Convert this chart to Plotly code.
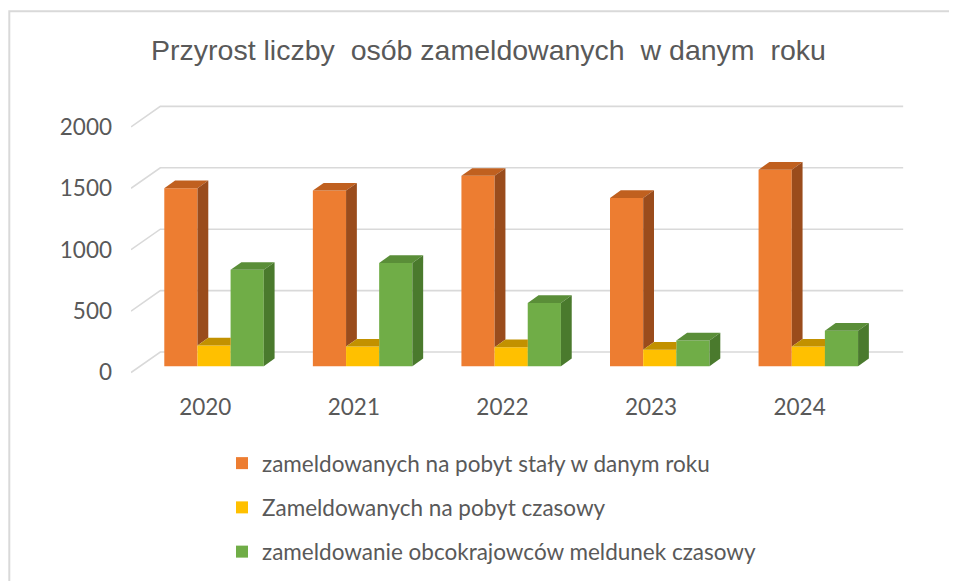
import plotly.graph_objects as go

# ---------------- data ----------------
years = ["2020", "2021", "2022", "2023", "2024"]
pobyt_staly = [1450, 1430, 1550, 1370, 1600]
pobyt_czasowy = [170, 160, 155, 135, 160]
obcokrajowcy = [785, 840, 515, 210, 290]
series_names = [
    "zameldowanych na pobyt stały w danym roku",
    "Zameldowanych na pobyt czasowy",
    "zameldowanie obcokrajowców meldunek czasowy",
]
y_ticks = [0, 500, 1000, 1500, 2000]
title_text = "Przyrost liczby\u00a0 osób zameldowanych\u00a0 w danym\u00a0 roku"

# ---------------- styling / geometry ----------------
front_cols = ["#ED7D31", "#FFC000", "#70AD47"]
top_cols = ["#C0601F", "#C29100", "#5A8E38"]
side_cols = ["#9A4C1C", "#9E7600", "#4A7A2D"]
grid_col = "#D9D9D9"
text_col = "#595959"

W_FIG, H_FIG = 957, 581
M_L, M_R, M_T, M_B = 123, 54, 82, 198
XR = [-0.5, 4.75]
YR = [-150, 2300]
W = W_FIG - M_L - M_R
H = H_FIG - M_T - M_B
ux = W / (XR[1] - XR[0])   # px per category unit
uy = H / (YR[1] - YR[0])   # px per value unit


def dx(px):
    return px / ux


def dy(px):
    return px / uy


bar_w = dx(33.2)
bar_off = [dx(-41.0), dx(-7.8), dx(25.3)]
base = dy(6.3)                        # bar front plane lifted into depth
bd_x, bd_y = dx(10.8), dy(7.7)        # bar depth
wall_x, wall_y = dx(29.3), dy(20.5)   # full floor depth

fig = go.Figure()
series = [pobyt_staly, pobyt_czasowy, obcokrajowcy]
xs = list(range(len(years)))

# front faces
for s, vals in enumerate(series):
    fig.add_trace(go.Bar(
        x=xs, y=vals, base=base, width=bar_w, offset=bar_off[s],
        marker=dict(color=front_cols[s], line=dict(width=0)),
        name=series_names[s], legendgroup=f"g{s}", hoverinfo="skip",
    ))

# top and side faces
for i in xs:
    for s, vals in enumerate(series):
        v = vals[i]
        xl = i + bar_off[s]
        xr = xl + bar_w
        nxt = series[s + 1][i] if s + 1 < len(series) else 0
        # top face
        if s + 1 < len(series) and nxt > v:
            tx = [xl, xr, xr, xl + bd_x, xl]
        else:
            tx = [xl, xr, xr + bd_x, xl + bd_x, xl]
        ty = [base + v, base + v, base + v + bd_y, base + v + bd_y, base + v]
        fig.add_trace(go.Scatter(x=tx, y=ty, fill="toself", mode="lines",
                                 fillcolor=top_cols[s], line=dict(width=0, color=top_cols[s]),
                                 showlegend=False, hoverinfo="skip"))
        # side face (visible part)
        if v > nxt:
            sx = [xr, xr, xr + bd_x, xr + bd_x, xr]
            sy = [base + nxt, base + v, base + v + bd_y, base + nxt + bd_y, base + nxt]
            fig.add_trace(go.Scatter(x=sx, y=sy, fill="toself", mode="lines",
                                     fillcolor=side_cols[s], line=dict(width=0, color=side_cols[s]),
                                     showlegend=False, hoverinfo="skip"))

# gridlines (side wall diagonals + back wall)
shapes = []
for t in y_ticks:
    shapes.append(dict(type="path", xref="x", yref="y", layer="below",
                       path=f"M {XR[0]},{t} L {XR[0] + wall_x},{t + wall_y} L {len(years) - 0.5 + wall_x},{t + wall_y}",
                       line=dict(color=grid_col, width=1.6)))


# chart border (partly cropped in the reference)
def px2paper_x(px):
    return (px - M_L) / W


def px2paper_y(py):
    return (H_FIG - M_B - py) / H


shapes.append(dict(type="rect", xref="paper", yref="paper", layer="below",
                   x0=px2paper_x(1.3), x1=px2paper_x(990), y0=px2paper_y(620), y1=px2paper_y(3.3),
                   line=dict(color=grid_col, width=2), fillcolor="rgba(0,0,0,0)"))

fig.update_layout(
    width=W_FIG, height=H_FIG,
    margin=dict(l=M_L, r=M_R, t=M_T, b=M_B, autoexpand=False),
    paper_bgcolor="white", plot_bgcolor="white",
    barmode="overlay",
    shapes=shapes,
    title=dict(text=title_text, x=480.5 / W_FIG, xref="container", xanchor="center",
               y=1 - 42 / H_FIG, yref="container", yanchor="middle",
               font=dict(family="Liberation Sans, Arial, sans-serif", size=28.5, color=text_col)),
    xaxis=dict(range=XR, tickvals=xs, ticktext=years, showgrid=False, zeroline=False,
               showline=False, ticks="", ticklabelstandoff=0, tickangle=0,
               tickfont=dict(family="Lato, sans-serif", size=22.5, color=text_col)),
    yaxis=dict(range=YR, tickvals=y_ticks, showgrid=False, zeroline=False,
               showline=False, ticks="", ticklabelstandoff=18,
               tickfont=dict(family="Lato, sans-serif", size=22.5, color=text_col)),
    legend=dict(orientation="v", xref="container", yref="container",
                x=214 / W_FIG, xanchor="left", y=1 - 434 / H_FIG, yanchor="top",
                tracegroupgap=12, traceorder="grouped",
                font=dict(family="Lato, sans-serif", size=22.5, color=text_col),
                bgcolor="rgba(0,0,0,0)"),
    showlegend=True,
)

fig.write_html("out.html")
